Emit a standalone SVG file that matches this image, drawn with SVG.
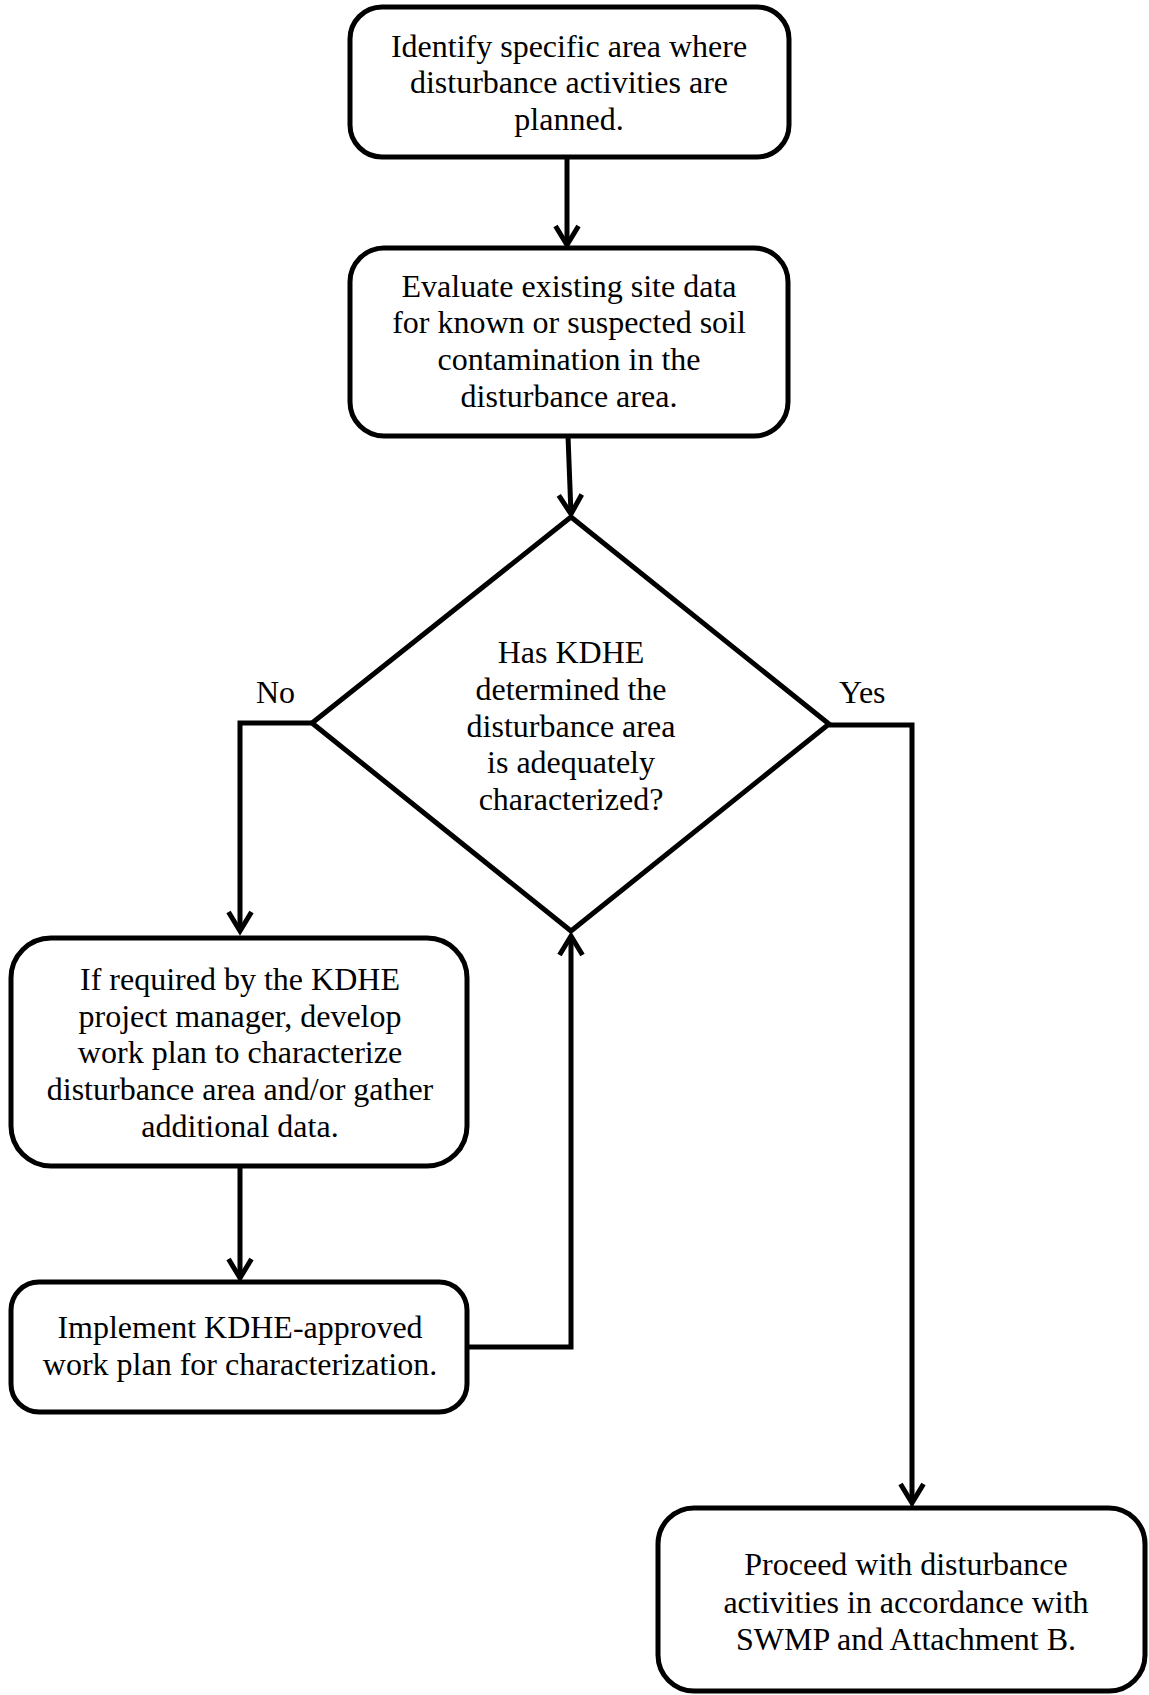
<svg xmlns="http://www.w3.org/2000/svg" width="1149" height="1695" viewBox="0 0 1149 1695">
<style>
.box{fill:#fff;stroke:#000;stroke-width:5}
.t{font-family:"Liberation Serif","Times New Roman",serif;font-size:32px;fill:#000;text-anchor:middle}
.lbl{font-family:"Liberation Serif","Times New Roman",serif;font-size:32px;fill:#000}
.c{fill:none;stroke:#000;stroke-width:5;stroke-linejoin:miter}
</style>
<defs>
<marker id="ah" markerUnits="userSpaceOnUse" markerWidth="40" markerHeight="40" viewBox="-30 -20 40 40" refX="-3" refY="0" orient="auto">
<path d="M-22,-11.5 L-3,0 L-22,11.5" fill="none" stroke="#000" stroke-width="5" stroke-linejoin="miter"/>
</marker>
</defs>
<rect width="1149" height="1695" fill="#fff"/>
<g id="connectors">
<path class="c" d="M567,157 L567,245" marker-end="url(#ah)"/>
<path class="c" d="M568,436 L571,514" marker-end="url(#ah)"/>
<path class="c" d="M312,723 L240,723 L240,931" marker-end="url(#ah)"/>
<path class="c" d="M829,725 L912,725 L912,1503" marker-end="url(#ah)"/>
<path class="c" d="M240,1166 L240,1278" marker-end="url(#ah)"/>
<path class="c" d="M467,1347 L571,1347 L571,936" marker-end="url(#ah)"/>
<text class="lbl" x="256" y="703">No</text>
<text class="lbl" x="839" y="703">Yes</text>
</g>
<g id="n1">
<rect class="box" x="350" y="7" width="439" height="150" rx="32" ry="32"/>
<text class="t" x="569" y="57">Identify specific area where</text>
<text class="t" x="569" y="93">disturbance activities are</text>
<text class="t" x="569" y="130">planned.</text>
</g>
<g id="n2">
<rect class="box" x="350" y="248" width="438" height="188" rx="34" ry="34"/>
<text class="t" x="569" y="297">Evaluate existing site data</text>
<text class="t" x="569" y="333">for known or suspected soil</text>
<text class="t" x="569" y="370">contamination in the</text>
<text class="t" x="569" y="407">disturbance area.</text>
</g>
<g id="n3">
<polygon class="box" points="571,517 829,724 571,931 312,723"/>
<text class="t" x="571" y="663">Has KDHE</text>
<text class="t" x="571" y="700">determined the</text>
<text class="t" x="571" y="737">disturbance area</text>
<text class="t" x="571" y="773">is adequately</text>
<text class="t" x="571" y="810">characterized?</text>
</g>
<g id="n4">
<rect class="box" x="11" y="938" width="456" height="228" rx="40" ry="40"/>
<text class="t" x="240" y="990">If required by the KDHE</text>
<text class="t" x="240" y="1027">project manager, develop</text>
<text class="t" x="240" y="1063">work plan to characterize</text>
<text class="t" x="240" y="1100">disturbance area and/or gather</text>
<text class="t" x="240" y="1137">additional data.</text>
</g>
<g id="n5">
<rect class="box" x="11" y="1282" width="456" height="130" rx="28" ry="28"/>
<text class="t" x="240" y="1338">Implement KDHE-approved</text>
<text class="t" x="240" y="1375">work plan for characterization.</text>
</g>
<g id="n6">
<rect class="box" x="658" y="1508" width="487" height="183" rx="36" ry="36"/>
<text class="t" x="906" y="1575">Proceed with disturbance</text>
<text class="t" x="906" y="1613">activities in accordance with</text>
<text class="t" x="906" y="1650">SWMP and Attachment B.</text>
</g>
</svg>
